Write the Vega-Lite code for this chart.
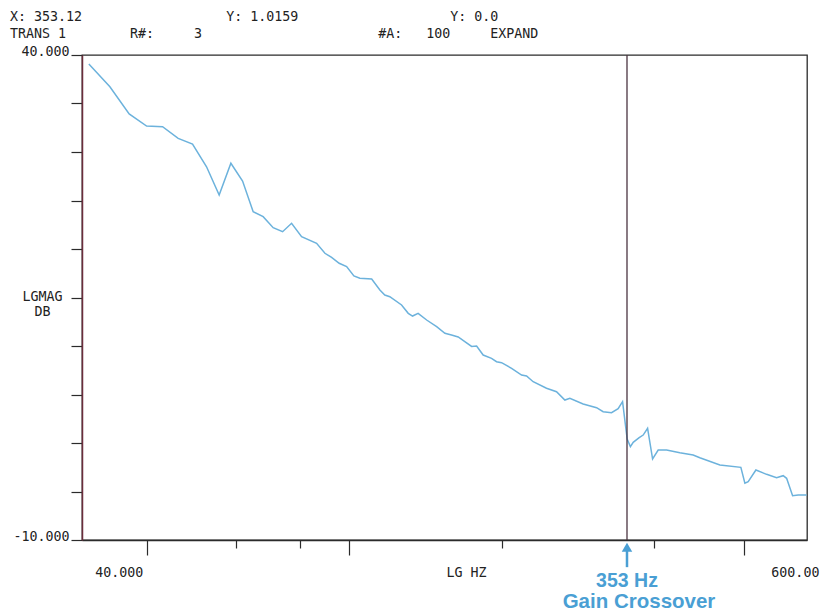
{
  "$schema": "https://vega.github.io/schema/vega-lite/v6.json",
  "width": 725,
  "height": 485,
  "autosize": "none",
  "padding": {"left": 82, "top": 55, "right": 15, "bottom": 73},
  "background": "#ffffff",
  "config": {"view": {"stroke": "#2b2b2b", "strokeWidth": 1.3}},
  "title": {
    "text": ["\u00a0X: 353.12\u00a0\u00a0\u00a0\u00a0\u00a0\u00a0\u00a0\u00a0\u00a0\u00a0\u00a0\u00a0\u00a0\u00a0\u00a0\u00a0\u00a0\u00a0Y: 1.0159\u00a0\u00a0\u00a0\u00a0\u00a0\u00a0\u00a0\u00a0\u00a0\u00a0\u00a0\u00a0\u00a0\u00a0\u00a0\u00a0\u00a0\u00a0\u00a0Y: 0.0", "TRANS 1\u00a0\u00a0\u00a0\u00a0\u00a0\u00a0\u00a0\u00a0R#:\u00a0\u00a0\u00a0\u00a0\u00a03\u00a0\u00a0\u00a0\u00a0\u00a0\u00a0\u00a0\u00a0\u00a0\u00a0\u00a0\u00a0\u00a0\u00a0\u00a0\u00a0\u00a0\u00a0\u00a0\u00a0\u00a0\u00a0#A:\u00a0\u00a0\u00a0100\u00a0\u00a0\u00a0\u00a0\u00a0EXPAND"],
    "anchor": "start",
    "frame": "group",
    "dx": -72,
    "dy": 14,
    "font": "DejaVu Sans Mono",
    "fontSize": 13.3,
    "fontWeight": "normal",
    "color": "#222222",
    "lineHeight": 17,
    "baseline": "bottom",
    "offset": 4
  },
  "datasets": {
    "trace": [
      {"f": 30.74, "db": 39.07}, {"f": 33.82, "db": 36.73}, {"f": 36.91, "db": 33.92}, {"f": 39.95, "db": 32.68},
      {"f": 42.95, "db": 32.61}, {"f": 46.1, "db": 31.41}, {"f": 49.2, "db": 30.82}, {"f": 52.43, "db": 28.48},
      {"f": 55.52, "db": 25.57}, {"f": 58.55, "db": 28.84}, {"f": 61.74, "db": 27.01}, {"f": 64.78, "db": 23.85},
      {"f": 67.78, "db": 23.33}, {"f": 70.93, "db": 22.2}, {"f": 74.03, "db": 21.78}, {"f": 77.11, "db": 22.65},
      {"f": 80.69, "db": 21.27}, {"f": 86.38, "db": 20.59}, {"f": 89.7, "db": 19.56}, {"f": 92.46, "db": 19.14},
      {"f": 95.7, "db": 18.53}, {"f": 98.98, "db": 18.18}, {"f": 102.3, "db": 17.22}, {"f": 105.1, "db": 16.98},
      {"f": 110.9, "db": 16.91}, {"f": 115.1, "db": 15.77}, {"f": 117.7, "db": 15.26}, {"f": 120.4, "db": 15.08},
      {"f": 127.0, "db": 14.23}, {"f": 130.9, "db": 13.37}, {"f": 133.5, "db": 13.09}, {"f": 136.9, "db": 13.37},
      {"f": 142.3, "db": 12.68}, {"f": 148.9, "db": 11.99}, {"f": 154.6, "db": 11.31}, {"f": 159.3, "db": 11.13},
      {"f": 164.2, "db": 10.93}, {"f": 169.2, "db": 10.44}, {"f": 174.5, "db": 9.95}, {"f": 178.5, "db": 10.0},
      {"f": 183.9, "db": 9.07}, {"f": 191.0, "db": 8.73}, {"f": 195.4, "db": 8.38}, {"f": 199.9, "db": 8.28},
      {"f": 209.2, "db": 7.7}, {"f": 218.9, "db": 7.01}, {"f": 223.9, "db": 6.91}, {"f": 230.7, "db": 6.32},
      {"f": 245.1, "db": 5.64}, {"f": 256.5, "db": 5.29}, {"f": 266.4, "db": 4.43}, {"f": 272.5, "db": 4.61},
      {"f": 289.4, "db": 4.02}, {"f": 307.6, "db": 3.64}, {"f": 316.9, "db": 3.23}, {"f": 329.2, "db": 3.12},
      {"f": 339.2, "db": 3.53}, {"f": 346.1, "db": 4.26}, {"f": 353.4, "db": 0.41}, {"f": 358.6, "db": -0.38},
      {"f": 363.2, "db": 0.07}, {"f": 373.2, "db": 0.55}, {"f": 380.0, "db": 0.82}, {"f": 387.7, "db": 1.52},
      {"f": 396.6, "db": -1.65}, {"f": 406.8, "db": -0.72}, {"f": 422.6, "db": -0.72}, {"f": 448.8, "db": -1.0},
      {"f": 476.7, "db": -1.24}, {"f": 491.4, "db": -1.52}, {"f": 538.2, "db": -2.27}, {"f": 591.9, "db": -2.51},
      {"f": 602.8, "db": -4.15}, {"f": 611.9, "db": -3.99}, {"f": 633.7, "db": -2.78}, {"f": 665.2, "db": -3.23},
      {"f": 696.0, "db": -3.58}, {"f": 717.2, "db": -3.37}, {"f": 728.4, "db": -3.64}, {"f": 748.5, "db": -5.43},
      {"f": 767.8, "db": -5.36}, {"f": 798.0, "db": -5.36}
    ],
    "cursor": [{"f": 353.12, "line1": "353 Hz", "line2": "Gain Crossover"}]
  },
  "layer": [
    {
      "data": {"name": "trace"},
      "mark": {"type": "line", "color": "#6cb2dc", "strokeWidth": 1.5, "interpolate": "linear"},
      "encoding": {
        "x": {
          "field": "f", "type": "quantitative",
          "scale": {"type": "log", "domain": [29.8, 799], "nice": false},
          "axis": {
            "values": [40, 60, 80, 100, 200, 400, 600],
            "tickSize": {"condition": {"test": "datum.value==40||datum.value==100||datum.value==600", "value": 15}, "value": 8},
            "tickColor": "#2b2b2b",
            "tickWidth": 1.2,
            "domainColor": "#2b2b2b",
            "domainWidth": 1.3,
            "grid": false,
            "labelExpr": "datum.value==40 ? '40.000' : (datum.value==600 ? '600.00' : '')",
            "labelAlign": {"condition": {"test": "datum.value==40", "value": "right"}, "value": "left"},
            "labelOffset": {"condition": {"test": "datum.value==40", "value": -4}, "value": 27},
            "labelBaseline": "top",
            "labelPadding": 10,
            "labelFont": "DejaVu Sans Mono",
            "labelFontSize": 13.3,
            "labelColor": "#222222",
            "labelOverlap": false,
            "labelBound": false,
            "title": "LG HZ",
            "titleFont": "DejaVu Sans Mono",
            "titleFontSize": 13.3,
            "titleFontWeight": "normal",
            "titleColor": "#222222",
            "titleX": 384,
            "titleY": 36,
            "titleAlign": "center",
            "titleBaseline": "alphabetic"
          }
        },
        "y": {
          "field": "db", "type": "quantitative",
          "scale": {"domain": [-10, 40], "nice": false, "zero": false},
          "axis": {
            "values": [-10, -5, 0, 5, 10, 15, 20, 25, 30, 35, 40],
            "tickSize": 11,
            "tickColor": "#2b2b2b",
            "tickWidth": 1.2,
            "domainColor": "#6b2d3c",
            "domainWidth": 1.5,
            "grid": false,
            "labelExpr": "datum.value==40 ? '40.000' : (datum.value==-10 ? '-10.000' : '')",
            "labelBaseline": "alphabetic",
            "labelPadding": 2,
            "labelFont": "DejaVu Sans Mono",
            "labelFontSize": 13.3,
            "labelColor": "#222222",
            "labelOverlap": false,
            "labelBound": false,
            "title": ["LGMAG", "DB"],
            "titleAngle": 0,
            "titleFont": "DejaVu Sans Mono",
            "titleFontSize": 13.3,
            "titleFontWeight": "normal",
            "titleColor": "#222222",
            "titleX": -40,
            "titleY": 245,
            "titleAlign": "center",
            "titleBaseline": "alphabetic",
            "titleLineHeight": 15
          }
        }
      }
    },
    {
      "mark": {"type": "rule", "color": "#333333", "strokeWidth": 1.3},
      "encoding": {"y": {"datum": 0}}
    },
    {
      "mark": {"type": "rule", "color": "#6b2d3c", "strokeWidth": 1.5},
      "encoding": {"x": {"datum": 799}}
    },
    {
      "data": {"name": "cursor"},
      "mark": {"type": "rule", "color": "#4a3440", "strokeWidth": 1.3},
      "encoding": {"x": {"field": "f", "type": "quantitative"}}
    },
    {
      "data": {"name": "cursor"},
      "mark": {"type": "rule", "color": "#4a9fd4", "strokeWidth": 2.5, "clip": false},
      "encoding": {
        "x": {"field": "f", "type": "quantitative"},
        "y": {"datum": -11.0},
        "y2": {"datum": -12.8}
      }
    },
    {
      "data": {"name": "cursor"},
      "mark": {"type": "point", "shape": "triangle-up", "filled": true, "color": "#4a9fd4", "size": 110, "opacity": 1, "clip": false},
      "encoding": {
        "x": {"field": "f", "type": "quantitative"},
        "y": {"datum": -10.75}
      }
    },
    {
      "data": {"name": "cursor"},
      "mark": {"type": "text", "color": "#4a9fd4", "font": "Liberation Sans", "fontSize": 19.5, "fontWeight": "bold", "align": "center", "baseline": "alphabetic", "clip": false},
      "encoding": {
        "x": {"field": "f", "type": "quantitative"},
        "y": {"datum": -14.85},
        "text": {"field": "line1"}
      }
    },
    {
      "data": {"name": "cursor"},
      "mark": {"type": "text", "color": "#4a9fd4", "font": "Liberation Sans", "fontSize": 20.5, "fontWeight": "bold", "align": "center", "baseline": "alphabetic", "dx": 12, "clip": false},
      "encoding": {
        "x": {"field": "f", "type": "quantitative"},
        "y": {"datum": -17.0},
        "text": {"field": "line2"}
      }
    }
  ]
}
